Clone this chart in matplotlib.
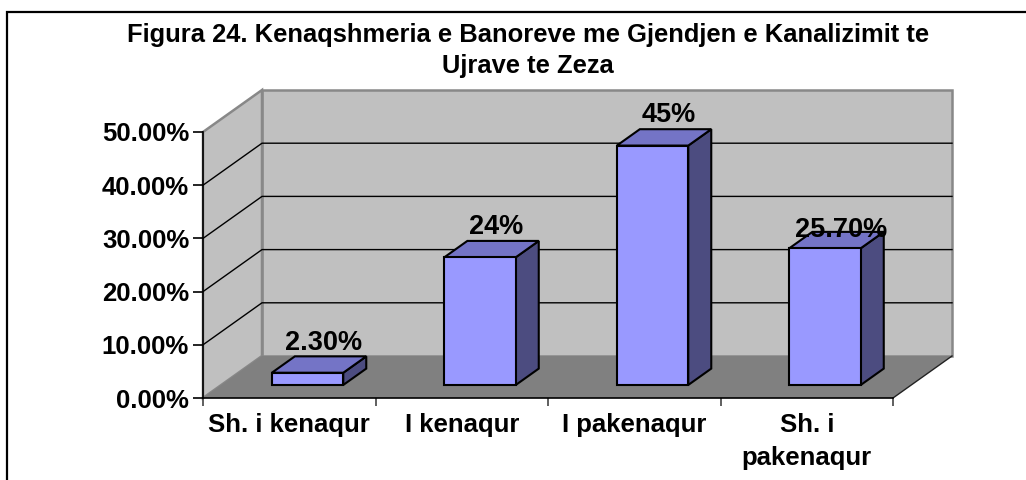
import matplotlib
matplotlib.use('Agg')
import matplotlib.pyplot as plt
from matplotlib.patches import Polygon, Rectangle

plt.rcParams['font.family'] = ['Liberation Sans', 'DejaVu Sans']
plt.rcParams['font.weight'] = 'bold'

# ---- data ----
categories = ['Sh. i kenaqur', 'I kenaqur', 'I pakenaqur', 'Sh. i\npakenaqur']
values = [0.023, 0.24, 0.45, 0.257]
value_labels = ['2.30%', '24%', '45%', '25.70%']
ytick_values = [0.0, 0.1, 0.2, 0.3, 0.4, 0.5]
ytick_labels = ['0.00%', '10.00%', '20.00%', '30.00%', '40.00%', '50.00%']
title = 'Figura 24. Kenaqshmeria e Banoreve me Gjendjen e Kanalizimit te\nUjrave te Zeza'

# ---- styling ----
W, H = 1026, 480
FRONT_COL = '#9999FF'
TOP_COL = '#7474C6'
SIDE_COL = '#4C4C80'
WALL_COL = '#C0C0C0'
FLOOR_COL = '#808080'
EDGE_GRAY = '#888888'
FS = 18.5

fig = plt.figure(figsize=(W / 100, H / 100), dpi=100)
ax_left, ax_bottom, ax_w, ax_h = 203, 82, 690, 266
ax = fig.add_axes([ax_left / W, ax_bottom / H, ax_w / W, ax_h / H])
n = len(categories)
ymax = ytick_values[-1]
ax.set_xlim(0, n)
ax.set_ylim(0, ymax)
ax.patch.set_visible(False)

# depth vector (pixels) converted to data units
depth_px = (59, 42)
DX = depth_px[0] * n / ax_w
DY = depth_px[1] * ymax / ax_h

# walls
back_wall = Polygon([(DX, DY), (n + DX, DY), (n + DX, ymax + DY), (DX, ymax + DY)],
                    closed=True, fc=WALL_COL, ec=EDGE_GRAY, lw=1.8, clip_on=False, zorder=0)
left_wall = Polygon([(0, 0), (DX, DY), (DX, ymax + DY), (0, ymax)],
                    closed=True, fc=WALL_COL, ec=EDGE_GRAY, lw=1.8, clip_on=False, zorder=0)
floor = Polygon([(0, 0), (n, 0), (n + DX, DY), (DX, DY)],
                closed=True, fc=FLOOR_COL, ec='none', clip_on=False, zorder=0.5)
for p in (back_wall, left_wall, floor):
    ax.add_patch(p)
ax.plot([n, n + DX], [0, DY], color='#222222', lw=1, clip_on=False, zorder=0.6)

# gridlines
for yv in ytick_values[1:-1]:
    ax.plot([0, DX, n + DX], [yv, yv + DY, yv + DY], color='black', lw=1,
            clip_on=False, zorder=1)

# bars
bw = 0.414
f, b = 0.31, 0.70
for i, v in enumerate(values):
    xl = i + 0.5 - bw / 2
    xr = i + 0.5 + bw / 2
    fx, fy = f * DX, f * DY
    bx, by = b * DX, b * DY
    front = [(xl + fx, fy), (xr + fx, fy), (xr + fx, v + fy), (xl + fx, v + fy)]
    top = [(xl + fx, v + fy), (xr + fx, v + fy), (xr + bx, v + by), (xl + bx, v + by)]
    side = [(xr + fx, fy), (xr + bx, by), (xr + bx, v + by), (xr + fx, v + fy)]
    for pts, col in ((side, SIDE_COL), (top, TOP_COL), (front, FRONT_COL)):
        ax.add_patch(Polygon(pts, closed=True, fc=col, ec='black', lw=1.5,
                             joinstyle='miter', clip_on=False, zorder=3))

# value labels
nudges = [0, 0, 0, -12]
for i, (v, lbl) in enumerate(zip(values, value_labels)):
    cx = i + 0.5 + (f + b) / 2 * DX
    cy = v + (f + b) / 2 * DY
    ax.annotate(lbl, xy=(cx, cy), xytext=(5, 22 + nudges[i]), textcoords='offset pixels',
                ha='center', va='center', fontsize=19.5, fontweight='bold', zorder=5,
                annotation_clip=False)

# axes
for s in ('top', 'right'):
    ax.spines[s].set_visible(False)
for s in ('left', 'bottom'):
    ax.spines[s].set_color('black')
    ax.spines[s].set_linewidth(1.2)
    ax.spines[s].set_zorder(2)
ax.set_yticks(ytick_values, ytick_labels)
ax.tick_params(axis='y', direction='out', length=7, width=1.2, pad=3, labelsize=FS)
ax.set_xticks(range(n + 1))
ax.set_xticklabels([])
ax.set_xticks([i + 0.5 for i in range(n)], minor=True)
ax.set_xticklabels(categories, minor=True, fontsize=FS, fontweight='bold', linespacing=1.44)
ax.tick_params(axis='x', which='major', direction='out', length=6, width=1.2, color='#444444')
ax.tick_params(axis='x', which='minor', length=0, pad=11)

# title (two lines, baselines placed separately)
title_lines = title.split('\n')
for k, line in enumerate(title_lines):
    fig.text(528 / W, 1 - (42 + 31 * k) / H, line, ha='center', va='baseline',
             fontsize=18.4, fontweight='bold')

# outer frame
fig.patches.append(Rectangle((7 / W, -0.2), 1.5, (H - 12) / H + 0.2, transform=fig.transFigure,
                             fill=False, ec='black', lw=1.6))

fig.savefig('out.png', dpi=100)
